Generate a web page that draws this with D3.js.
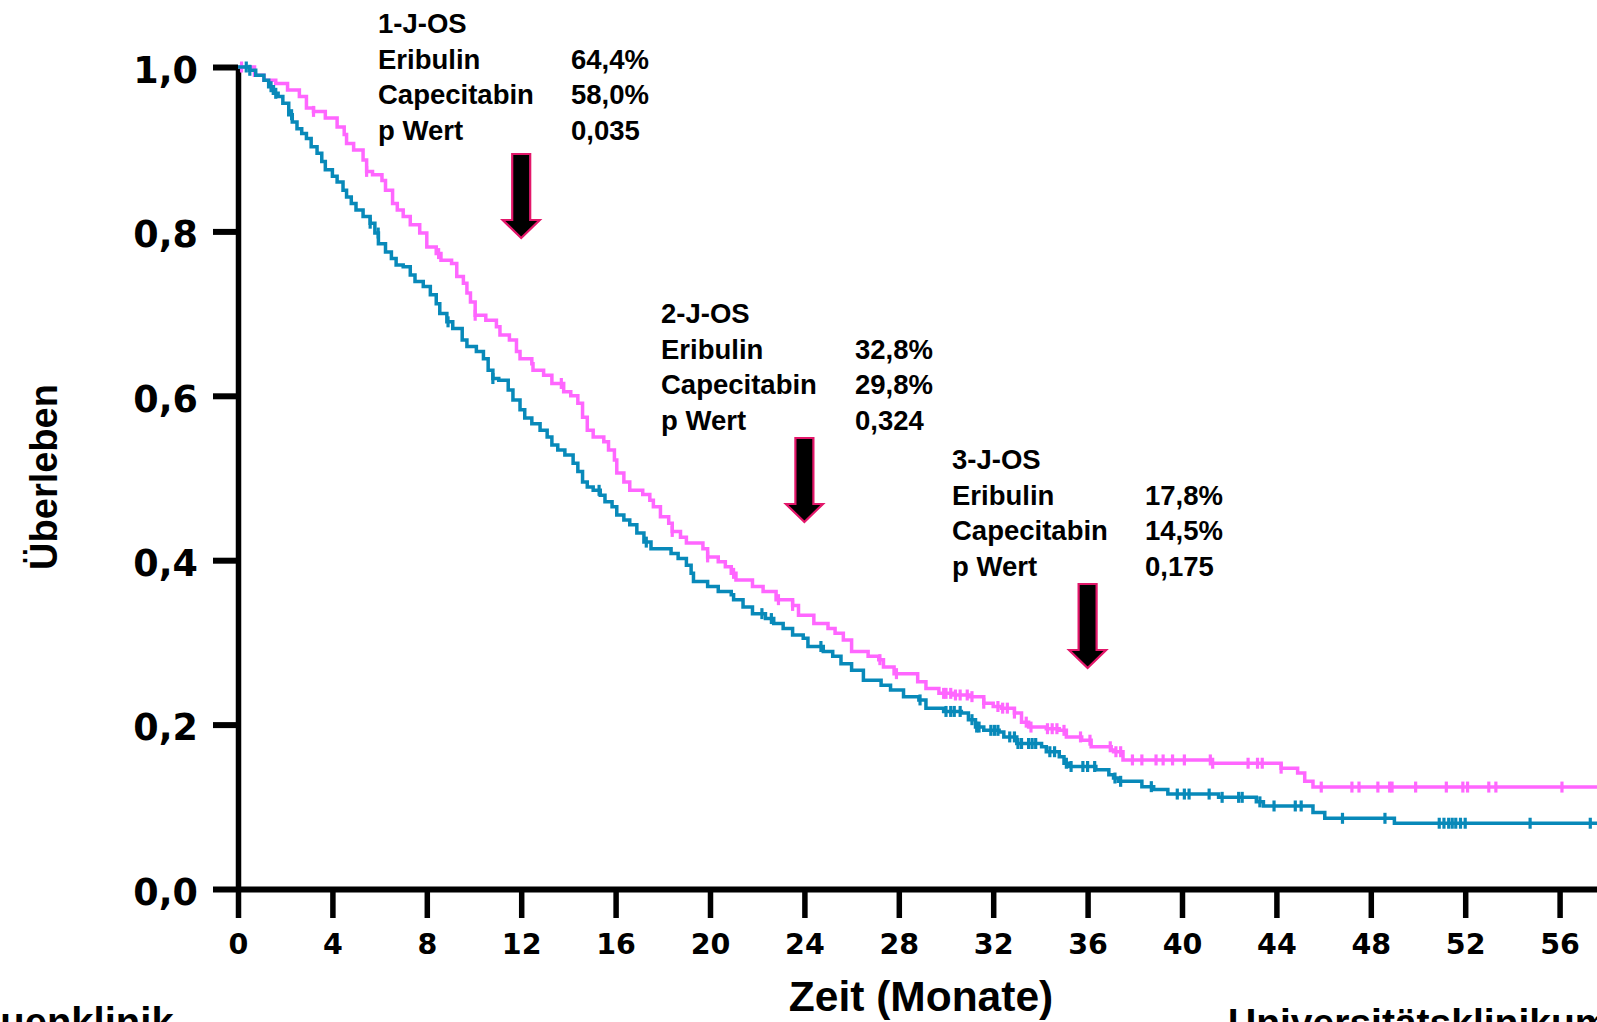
<!DOCTYPE html>
<html>
<head>
<meta charset="utf-8">
<script src="https://cdn.jsdelivr.net/npm/d3@7"></script>
<style>
  html, body { margin: 0; padding: 0; background: #fff; overflow: hidden; }
  svg { display: block; }
</style>
</head>
<body>
<svg id="chart" width="1597" height="1022"></svg>
<script>
// ---------------- DATA ----------------
const monthTicks = [0, 4, 8, 12, 16, 20, 24, 28, 32, 36, 40, 44, 48, 52, 56];
const survivalTicks = [0, 0.2, 0.4, 0.6, 0.8, 1.0];

// Eribulin (pink): step times (months) and survival after the step
const eribulinTimes = [0.7,1.1,1.6,2.1,2.6,2.9,3.2,3.7,4.2,4.5,4.6,4.9,5.3,5.45,5.7,6.1,6.25,6.55,6.75,7.0,7.3,7.7,8.0,8.4,8.6,9.05,9.27,9.55,9.7,9.85,10.05,10.5,10.95,11.1,11.5,11.8,11.95,12.45,12.5,12.95,13.3,13.8,14.1,14.4,14.6,14.8,15.05,15.5,15.7,15.95,16.05,16.35,16.6,17.15,17.45,17.6,17.9,18.25,18.4,18.75,19.0,19.7,19.9,20.35,20.65,20.9,21.1,21.8,22.25,22.8,23.5,23.75,24.4,25.0,25.3,25.65,26.0,26.7,27.15,27.35,27.8,28.8,29.15,29.7,30.3,31.0,31.6,32.0,32.35,32.9,33.2,33.5,34.25,34.8,35.1,35.75,36.15,37.0,37.1,37.5,41.25,44.2,44.9,45.2,45.55];
const eribulinSurv  = [0.990,0.984,0.980,0.972,0.964,0.950,0.946,0.938,0.927,0.918,0.907,0.899,0.887,0.873,0.869,0.862,0.850,0.834,0.826,0.818,0.808,0.798,0.781,0.773,0.765,0.761,0.745,0.737,0.725,0.714,0.698,0.692,0.684,0.674,0.668,0.654,0.645,0.639,0.631,0.625,0.615,0.605,0.600,0.591,0.574,0.558,0.550,0.544,0.534,0.522,0.506,0.495,0.485,0.480,0.473,0.465,0.453,0.445,0.435,0.428,0.421,0.414,0.404,0.398,0.392,0.384,0.376,0.368,0.362,0.352,0.345,0.333,0.323,0.317,0.311,0.303,0.289,0.283,0.279,0.270,0.262,0.252,0.244,0.238,0.236,0.234,0.226,0.222,0.220,0.214,0.203,0.197,0.195,0.193,0.185,0.181,0.173,0.169,0.167,0.157,0.153,0.147,0.141,0.131,0.124];
const eribulinCensored = [0.15,3.2,5.45,8.5,10.05,13.7,18.4,19.9,21.0,22.9,23.5,27.2,27.9,29.9,30.0,30.2,30.4,30.6,30.9,31.1,31.6,32.2,32.4,32.6,32.9,33.4,33.6,34.3,34.5,34.7,35.0,35.7,36.1,36.96,37.2,37.4,37.9,38.3,38.9,39.2,39.6,40.1,41.2,41.3,42.8,43.2,43.4,44.2,45.9,47.2,47.5,48.3,48.8,48.9,49.9,51.2,51.9,52.1,53.0,53.3,56.1];

// Capecitabin (blue)
const capecitabinTimes = [0.5,0.75,1.1,1.3,1.5,1.7,1.9,2.15,2.3,2.5,2.7,2.9,3.1,3.35,3.55,3.7,4.0,4.2,4.45,4.6,4.8,5.0,5.3,5.6,5.8,5.95,6.25,6.5,6.7,7.0,7.3,7.5,7.85,8.15,8.4,8.55,8.85,9.1,9.5,9.7,10.1,10.4,10.6,10.8,11.05,11.45,11.65,11.95,12.15,12.45,12.8,13.1,13.3,13.55,13.85,14.2,14.4,14.6,14.8,15.05,15.35,15.55,15.85,16.05,16.35,16.6,16.9,17.2,17.5,18.35,18.65,19.0,19.2,19.3,19.9,20.35,20.9,21.0,21.4,21.8,22.35,22.7,23.1,23.5,23.95,24.15,24.8,25.2,25.55,26.0,26.5,27.25,27.65,28.2,28.85,29.15,29.9,30.65,30.95,31.25,31.6,32.25,32.45,33.0,34.05,34.25,34.8,35.0,35.2,36.35,36.9,37.1,37.3,38.3,38.8,39.4,41.55,43.15,43.45,45.55,46.05,49.0];
const capecitabinSurv  = [0.996,0.990,0.984,0.976,0.968,0.964,0.956,0.942,0.933,0.925,0.919,0.913,0.903,0.895,0.885,0.875,0.867,0.860,0.850,0.842,0.834,0.826,0.818,0.810,0.798,0.785,0.775,0.767,0.759,0.757,0.747,0.739,0.733,0.723,0.712,0.700,0.690,0.682,0.668,0.660,0.654,0.645,0.631,0.621,0.619,0.607,0.595,0.583,0.573,0.566,0.558,0.550,0.540,0.534,0.528,0.518,0.508,0.495,0.489,0.485,0.479,0.471,0.465,0.455,0.449,0.443,0.433,0.422,0.414,0.408,0.402,0.394,0.384,0.374,0.368,0.362,0.358,0.352,0.343,0.335,0.329,0.323,0.317,0.309,0.305,0.295,0.289,0.283,0.274,0.266,0.254,0.248,0.242,0.234,0.230,0.220,0.216,0.214,0.206,0.197,0.193,0.191,0.185,0.177,0.173,0.167,0.161,0.153,0.149,0.145,0.139,0.135,0.131,0.1245,0.121,0.1155,0.1115,0.106,0.101,0.093,0.086,0.080];
const capecitabinCensored = [0.35,0.5,1.4,1.6,2.27,5.6,5.94,8.9,10.8,15.3,17.3,22.2,22.6,24.7,28.9,30.0,30.2,30.35,30.6,31.1,31.3,31.4,31.9,32.05,32.2,32.7,32.9,33.05,33.2,33.5,33.65,33.8,34.4,34.6,35.1,35.3,35.8,36.0,36.3,37.16,37.4,38.7,39.8,40.1,40.3,41.15,41.7,42.4,42.55,43.3,43.9,44.8,45.05,46.8,48.6,50.9,51.1,51.3,51.45,51.6,51.8,52.0,54.75,57.3];

// Landmark annotations
const landmarkMonths = [12, 24, 36];
const blockTitles = ["1-J-OS", "2-J-OS", "3-J-OS"];
const rowLabels = ["Eribulin", "Capecitabin", "p Wert"];
const eribulinRates = ["64,4%", "32,8%", "17,8%"];
const capecitabinRates = ["58,0%", "29,8%", "14,5%"];
const pValues = ["0,035", "0,324", "0,175"];

// ---------------- LAYOUT ----------------
const W = 1597, H = 1022;
const maxMonth = 57.6;
const layout = {
  blocks: [ {x: 378, y: 33, vx: 571, arrowTop: 154},
            {x: 661, y: 323, vx: 855, arrowTop: 438},
            {x: 952, y: 469, vx: 1145, arrowTop: 584} ],
  lineGap: 35.5
};
const colors = { eribulin: "#ff66ff", capecitabin: "#0889b9", arrowStroke: "#e3176a" };

const svg = d3.select("#chart");
const x = d3.scaleLinear().domain([0, maxMonth]).range([238, 238 + maxMonth * 23.6]);
const y = d3.scaleLinear().domain([0, 1]).range([889, 67]);

const fmt = v => d3.format(".1f")(v).replace(".", ",");

// Y axis
const yAxis = svg.append("g")
  .attr("transform", `translate(${x(0)},0)`)
  .call(d3.axisLeft(y).tickValues(survivalTicks).tickFormat(fmt).tickSize(25).tickSizeOuter(0).tickPadding(15));
yAxis.select(".domain").attr("stroke", "#000").attr("stroke-width", 5.5);
yAxis.selectAll(".tick line").attr("stroke", "#000").attr("stroke-width", 6);
yAxis.selectAll(".tick text")
  .attr("fill", "#000").attr("dy", "0.42em")
  .style("font-family", "'DejaVu Sans', sans-serif").style("font-weight", "bold").style("font-size", "36.5px");

// X axis
const xAxis = svg.append("g")
  .attr("transform", `translate(0,${y(0)})`)
  .call(d3.axisBottom(x).tickValues(monthTicks).tickFormat(d3.format("d")).tickSize(29).tickSizeOuter(0).tickPadding(16));
xAxis.select(".domain").attr("stroke", "#000").attr("stroke-width", 6);
xAxis.selectAll(".tick line").attr("stroke", "#000").attr("stroke-width", 5.5);
xAxis.selectAll(".tick text")
  .attr("fill", "#000")
  .style("font-family", "'DejaVu Sans', sans-serif").style("font-weight", "bold").style("font-size", "28.5px");

// Curves
function buildSteps(times, surv) {
  const pts = [[0, 1]];
  times.forEach((t, i) => pts.push([t, surv[i]]));
  pts.push([maxMonth, surv[surv.length - 1]]);
  return pts;
}
function survAt(times, surv, t) {
  let s = 1;
  for (let i = 0; i < times.length; i++) { if (times[i] <= t) s = surv[i]; else break; }
  return s;
}
const line = d3.line().x(d => x(d[0])).y(d => y(d[1])).curve(d3.curveStepAfter);

const series = [
  {times: eribulinTimes, surv: eribulinSurv, cens: eribulinCensored, color: colors.eribulin},
  {times: capecitabinTimes, surv: capecitabinSurv, cens: capecitabinCensored, color: colors.capecitabin}
];
series.forEach(s => {
  const g = svg.append("g");
  g.append("path")
    .datum(buildSteps(s.times, s.surv))
    .attr("d", line)
    .attr("fill", "none")
    .attr("stroke", s.color)
    .attr("stroke-width", 3.5);
  g.selectAll("line.cens")
    .data(s.cens)
    .join("line")
    .attr("x1", d => x(d)).attr("x2", d => x(d))
    .attr("y1", d => y(survAt(s.times, s.surv, d)) - 5.5)
    .attr("y2", d => y(survAt(s.times, s.surv, d)) + 5.5)
    .attr("stroke", s.color)
    .attr("stroke-width", 3.2);
});

// Annotation blocks
const textStyle = sel => sel.attr("fill", "#000")
  .style("font-family", "'Liberation Sans', Arial, sans-serif")
  .style("font-weight", "bold").style("font-size", "27.5px");

layout.blocks.forEach((b, i) => {
  const g = svg.append("g");
  g.append("text").attr("x", b.x).attr("y", b.y).text(blockTitles[i]).call(textStyle);
  const vals = [eribulinRates[i], capecitabinRates[i], pValues[i]];
  rowLabels.forEach((lab, r) => {
    const yy = b.y + (r + 1) * layout.lineGap;
    g.append("text").attr("x", b.x).attr("y", yy).text(lab).call(textStyle);
    g.append("text").attr("x", b.vx).attr("y", yy).text(vals[r]).call(textStyle);
  });
  // arrow
  const cx = x(landmarkMonths[i]);
  const top = b.arrowTop, headStart = top + 66, tip = top + 84;
  const sw = 9, hw = 18.5;
  const pts = [[cx - sw, top], [cx + sw, top], [cx + sw, headStart], [cx + hw, headStart],
               [cx, tip], [cx - hw, headStart], [cx - sw, headStart]];
  g.append("path")
    .attr("d", "M" + pts.map(p => p.join(",")).join("L") + "Z")
    .attr("fill", "#000")
    .attr("stroke", colors.arrowStroke)
    .attr("stroke-width", 2.2)
    .attr("stroke-linejoin", "miter");
});

// Axis titles
svg.append("text")
  .attr("transform", `translate(57,477) rotate(-90)`)
  .attr("text-anchor", "middle")
  .attr("fill", "#000")
  .style("font-family", "'Liberation Sans', Arial, sans-serif")
  .style("font-weight", "bold").style("font-size", "38px")
  .text("Überleben");

svg.append("text")
  .attr("x", 921).attr("y", 1011)
  .attr("text-anchor", "middle")
  .attr("fill", "#000")
  .style("font-family", "'Liberation Sans', Arial, sans-serif")
  .style("font-weight", "bold").style("font-size", "42.5px")
  .text("Zeit (Monate)");

// Footer (clipped by bottom edge, as in the reference)
svg.append("text")
  .attr("x", -62).attr("y", 1036)
  .attr("fill", "#000")
  .style("font-family", "'Liberation Sans', Arial, sans-serif")
  .style("font-weight", "bold").style("font-size", "40px")
  .text("Frauenklinik");
svg.append("text")
  .attr("x", 1228).attr("y", 1036)
  .attr("fill", "#000")
  .style("font-family", "'Liberation Sans', Arial, sans-serif")
  .style("font-weight", "bold").style("font-size", "39px")
  .text("Universitätsklinikum");
</script>
</body>
</html>
